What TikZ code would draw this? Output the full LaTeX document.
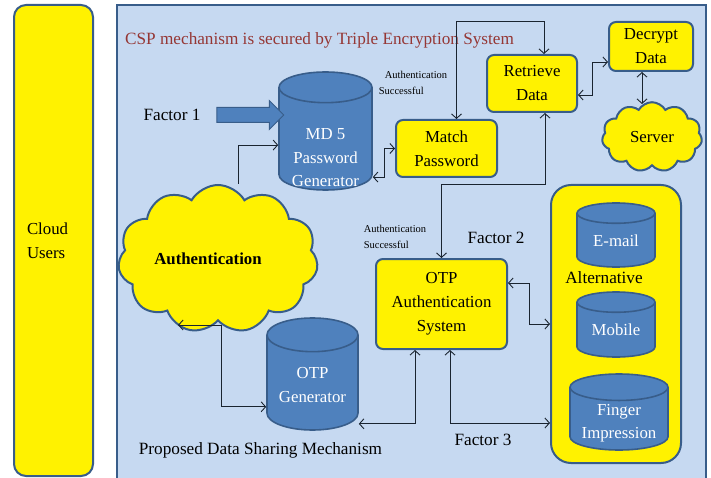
\documentclass[tikz,border=0pt]{standalone}
\usepackage{fontspec}
\setmainfont{Liberation Serif}
\usepackage{tikz}
\usetikzlibrary{arrows.meta,calc,shapes.geometric,shapes.symbols,shapes.arrows}
\definecolor{panelblue}{HTML}{C6D9F1}
\definecolor{edgeblue}{HTML}{385D8A}
\definecolor{dbblue}{HTML}{4F81BD}
\definecolor{titlered}{HTML}{953735}
\definecolor{linegray}{HTML}{1A2430}

\begin{document}
\begin{tikzpicture}[x=1pt,y=-1pt,>={Straight Barb[length=4.5pt,width=10pt]},
  box/.style={draw=edgeblue,line width=2pt,fill=yellow,rounded corners=7pt,align=center,inner sep=0pt,font=\fontsize{16.8}{24}\selectfont},
  db/.style={cylinder,shape border rotate=90,anchor=shape center,draw=edgeblue,line width=1.6pt,fill=dbblue,inner sep=0pt},
  dbtext/.style={text=white,align=center,inner sep=0pt,font=\fontsize{16.8}{23.5}\selectfont},
  puff/.style={cloud,cloud puffs=11,cloud puff arc=120,draw=edgeblue,line width=2pt,fill=yellow,inner sep=0pt},
  link/.style={draw=linegray,line width=0.9pt,<->},
  lbl/.style={font=\fontsize{17.2}{20}\selectfont},
  small/.style={font=\fontsize{10.5}{16}\selectfont,align=left}]
  \path[use as bounding box,clip] (0,0) rectangle (711,478);
  \fill[white] (0,0) rectangle (711,478);
  \node[box,rounded corners=12pt,minimum width=79pt,minimum height=471pt,text width=53pt,align=left] (users) at (53.5,240.5) {Cloud\\Users};
  \draw[edgeblue,line width=2pt,fill=panelblue] (117,5) rectangle (706,490);
  \node[lbl,text=titlered,anchor=west,inner sep=0pt] (title) at (125,40) {CSP mechanism is secured by Triple Encryption System};

  \node[db,aspect=0.33,text width=93pt,minimum height=118pt] (md5) at (325.5,131) {};
  \node[dbtext] (md5text) at ([yshift=-27pt]md5.shape center) {MD 5\\Password\\Generator};
  \node[single arrow,single arrow head extend=7pt,single arrow head indent=0pt,minimum height=67pt,inner xsep=0pt,inner ysep=7pt,fill=dbblue,draw=edgeblue,line width=1pt] (f1arrow) at (246.5,115) {};
  \node[lbl] (f1) at (172,115) {Factor 1};
  \node[box,minimum width=101pt,minimum height=57pt] (match) at (446.5,148.5) {Match\\Password};
  \node[box,minimum width=90pt,minimum height=57pt] (retrieve) at (532,83.5) {Retrieve\\Data};
  \node[box,minimum width=84pt,minimum height=49pt] (decrypt) at (651,46.5) {Decrypt\\Data};
  \node[puff,minimum width=100pt,minimum height=69pt,font=\fontsize{16.8}{20}\selectfont] (server) at (652,137) {Server};
  \node[puff,minimum width=200pt,minimum height=148pt,font=\bfseries\fontsize{16.8}{20}\selectfont] (auth) at (218,259) {\hspace*{-20pt}Authentication};
  \node[small] (ok1) at (413,83) {\hspace*{6pt}Authentication\\Successful};
  \node[small] (ok2) at (395,237) {Authentication\\Successful};
  \node[lbl] (f2) at (496,238) {Factor 2};
  \node[box,minimum width=131pt,minimum height=90pt] (otpauth) at (441.5,304) {OTP\\Authentication\\System};
  \node[box,rounded corners=20pt,minimum width=130pt,minimum height=278pt] (alt) at (616,324) {};
  \node[db,aspect=0.26,text width=78pt,minimum height=64pt] (email) at (616,235) {};
  \node[dbtext] (emailtext) at ([yshift=-6pt]email.shape center) {E-mail};
  \node[lbl] (alttext) at (604,278) {Alternative};
  \node[db,aspect=0.26,text width=78pt,minimum height=65pt] (mobile) at (616,324.5) {};
  \node[dbtext] (mobiletext) at ([yshift=-5pt]mobile.shape center) {Mobile};
  \node[db,aspect=0.27,text width=98pt,minimum height=76pt] (finger) at (619,412) {};
  \node[dbtext] (fingertext) at ([yshift=-11pt]finger.shape center) {Finger\\Impression};
  \node[db,aspect=0.37,text width=91pt,minimum height=112pt] (otpgen) at (312.5,374) {};
  \node[dbtext] (otpgentext) at ([yshift=-11pt]otpgen.shape center) {OTP\\Generator};
  \node[lbl] (f3) at (483,440) {Factor 3};
  \node[lbl] (caption) at (260.5,450) {Proposed Data Sharing Mechanism};

  \draw[link,<-] ([yshift=-6pt]md5.west) -| ([xshift=20pt]auth.north);
  \draw[link] ($(md5.east)+(0,38)$) -- ++(12,0) |- (match.west);
  \draw[link] ([xshift=10pt]match.north) -- ++(0,-98) -| ([xshift=12pt]retrieve.north);
  \draw[link] ([yshift=-11.5pt]retrieve.east) -- ++(14,0) |- ([yshift=-15.5pt]decrypt.west);
  \draw[link] ([xshift=-9pt]decrypt.south) -- ++(0,32);
  \draw[link] (otpauth.north) -- ++(0,-74) -| ([xshift=13pt]retrieve.south);
  \draw[link] ([yshift=21pt]otpauth.east) -- ++(21,0) |- (alt.west);
  \draw[link] ([xshift=8.5pt]otpauth.south) |- ([yshift=-99pt]alt.west);
  \draw[link] ([xshift=-26.5pt]otpauth.south) |- ([yshift=-41pt]otpgen.east);
  \draw[link] ([shift={(-40pt,-66pt)}]auth.center) -- ++(43,0) |- ([yshift=-24pt]otpgen.west);
\end{tikzpicture}
\end{document}
